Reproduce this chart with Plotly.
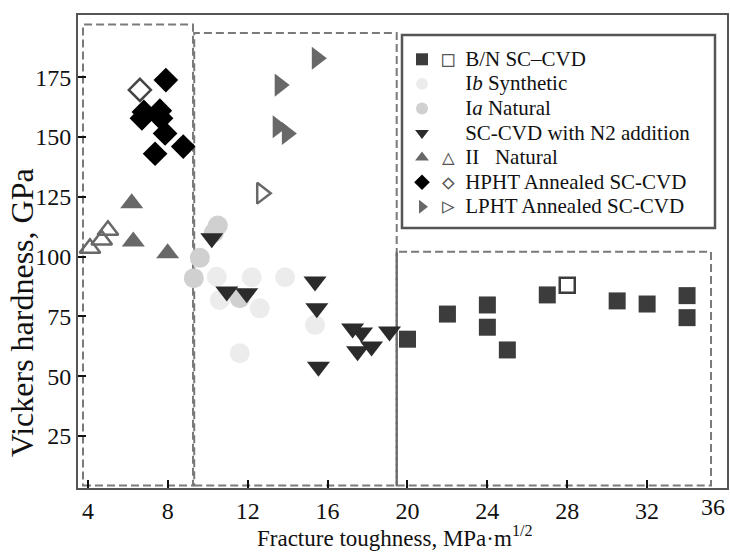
import plotly.graph_objects as go

# ---- data ----
bn_x = [20.0, 22.0, 24.0, 24.0, 25.0, 27.0, 30.5, 32.0, 34.0, 34.0]
bn_y = [65.5, 76.0, 79.8, 70.5, 61.0, 84.0, 81.5, 80.2, 83.7, 74.5]
bn_open_x = [28.0]
bn_open_y = [88.0]

ib_x = [10.45, 12.2, 13.87, 10.6, 12.6, 11.6, 15.37]
ib_y = [91.6, 91.4, 91.4, 81.9, 78.4, 59.6, 71.5]

ia_x = [10.5, 10.3, 9.6, 9.3, 11.6]
ia_y = [113.0, 110.0, 99.5, 91.0, 82.6]

n2_x = [10.2, 10.95, 11.95, 15.37, 15.46, 15.54, 17.25, 17.7, 17.5, 18.2, 19.1]
n2_y = [107.7, 85.4, 84.7, 89.6, 78.4, 54.0, 70.0, 68.3, 60.5, 62.4, 68.7]

ii_x = [6.19, 6.27, 7.99]
ii_y = [122.3, 106.3, 101.4]
ii_open_x = [4.1, 4.69, 5.0]
ii_open_y = [103.5, 107.0, 111.0]

hp_x = [7.9, 6.8, 7.6, 6.7, 7.66, 7.86, 8.77, 7.36]
hp_y = [173.8, 160.5, 161.0, 157.8, 157.8, 151.5, 146.0, 143.0]
hp_open_x = [6.6]
hp_open_y = [169.7]

lp_x = [15.46, 13.6, 13.5, 13.96]
lp_y = [182.9, 171.7, 154.3, 151.5]
lp_open_x = [12.7]
lp_open_y = [126.5]

x_ticks = [4, 8, 12, 16, 20, 24, 28, 32]
x_last_tick = 36
y_ticks = [25, 50, 75, 100, 125, 150, 175]

FONT = "Liberation Serif"
SYMF = "DejaVu Sans Mono"
LEG_TXT = 21

# plot area in pixels: x 78..727, y 15..488
PL, PR, PT, PB = 78, 727, 15, 488
PW, PH = PR - PL, PB - PT


def px_x(p):
    return (p - PL) / PW


def px_y(p):
    return 1 - (p - PT) / PH


def lname(glyph, text, gcolor="#555555"):
    col = gcolor if glyph else "rgba(0,0,0,0)"
    g = glyph if glyph else "□"
    return (f'<span style="font-size:{LEG_TXT}px">'
            f'<span style="font-family:{SYMF};color:{col}">{g}</span>\u00a0 {text}</span>')


fig = go.Figure()

fig.add_trace(go.Scatter(x=bn_x, y=bn_y, mode="markers", name=lname("□", "B/N SC–CVD"),
                         marker=dict(symbol="square", size=17, color="#3c3c3c")))
fig.add_trace(go.Scatter(x=bn_open_x, y=bn_open_y, mode="markers", showlegend=False,
                         marker=dict(symbol="square-open", size=15, color="#3c3c3c",
                                     line=dict(width=2.5, color="#3c3c3c"))))
fig.add_trace(go.Scatter(x=ib_x, y=ib_y, mode="markers", name=lname(None, "I<i>b</i> Synthetic"),
                         marker=dict(symbol="circle", size=20, color="#ececec")))
fig.add_trace(go.Scatter(x=ia_x, y=ia_y, mode="markers", name=lname(None, "I<i>a</i> Natural"),
                         marker=dict(symbol="circle", size=20, color="#d0d0d0")))
fig.add_trace(go.Scatter(x=n2_x, y=n2_y, mode="markers", name=lname(None, "SC-CVD with N2 addition"),
                         marker=dict(symbol="triangle-down", size=20, color="#2b2b2b")))
fig.add_trace(go.Scatter(x=ii_x, y=ii_y, mode="markers", name=lname("△", "II\u00a0\u00a0 Natural"),
                         marker=dict(symbol="triangle-up", size=20, color="#686868")))
fig.add_trace(go.Scatter(x=ii_open_x, y=ii_open_y, mode="markers", showlegend=False,
                         marker=dict(symbol="triangle-up-open", size=18, color="#686868",
                                     line=dict(width=2.5, color="#686868"))))
fig.add_trace(go.Scatter(x=hp_x, y=hp_y, mode="markers", name=lname("◇", "HPHT Annealed SC-CVD"),
                         marker=dict(symbol="diamond", size=19, color="#000000")))
fig.add_trace(go.Scatter(x=hp_open_x, y=hp_open_y, mode="markers", showlegend=False,
                         marker=dict(symbol="diamond-open", size=17, color="#444444",
                                     line=dict(width=2.5, color="#444444"))))
fig.add_trace(go.Scatter(x=lp_x, y=lp_y, mode="markers", name=lname("▷", "LPHT Annealed SC-CVD"),
                         marker=dict(symbol="triangle-right", size=20, color="#686868")))
fig.add_trace(go.Scatter(x=lp_open_x, y=lp_open_y, mode="markers", showlegend=False,
                         marker=dict(symbol="triangle-right-open", size=18, color="#686868",
                                     line=dict(width=2.5, color="#686868"))))

dash_col = "#7a7a7a"
DASH = "8px,4px"
shapes = [
    dict(type="rect", xref="x", yref="y", x0=3.75, x1=9.26, y0=4.3, y1=197,
         line=dict(color=dash_col, width=2, dash=DASH), layer="below"),
    dict(type="rect", xref="x", yref="y", x0=9.32, x1=19.46, y0=4.3, y1=193.5,
         line=dict(color=dash_col, width=2, dash=DASH), layer="below"),
    dict(type="rect", xref="x", yref="y", x0=19.46, x1=35.2, y0=4.3, y1=102,
         line=dict(color=dash_col, width=2, dash=DASH), layer="below"),
    dict(type="line", xref="x", yref="y", x0=19.46, x1=19.46, y0=4.3, y1=102,
         line=dict(color="#6a6a6a", width=2), layer="below"),
    # legend frame
    dict(type="rect", xref="paper", yref="paper",
         x0=px_x(402), x1=px_x(715), y0=px_y(228), y1=px_y(35),
         line=dict(color="#555555", width=2.5), fillcolor="white", layer="above"),
]

fig.update_layout(
    width=730, height=557,
    margin=dict(l=PL, r=730 - PR, t=PT, b=557 - PB, autoexpand=False),
    paper_bgcolor="white", plot_bgcolor="white",
    font=dict(family=FONT, size=20, color="#111111"),
    showlegend=True,
    shapes=shapes,
    legend=dict(x=px_x(402), y=px_y(42), xanchor="left", yanchor="top",
                bgcolor="rgba(0,0,0,0)", borderwidth=0,
                font=dict(family=FONT, size=16.6, color="#111111"),
                itemsizing="constant", tracegroupgap=0),
    xaxis=dict(range=[3.5, 36], tickvals=x_ticks, ticktext=[str(v) for v in x_ticks],
               automargin=False,
               ticks="inside", ticklen=8, tickwidth=2, tickcolor="#111111",
               showgrid=False, zeroline=False, showline=True, mirror=True,
               linecolor="#555555", linewidth=2,
               tickfont=dict(family=FONT, size=24)),
    yaxis=dict(range=[3.3, 201], tickvals=y_ticks, automargin=False,
               ticks="inside", ticklen=8, tickwidth=2, tickcolor="#111111",
               showgrid=False, zeroline=False, showline=True, mirror=True,
               linecolor="#555555", linewidth=2,
               tickfont=dict(family=FONT, size=24)),
    annotations=[
        dict(x=x_last_tick, y=0, xref="x", yref="paper", text=str(x_last_tick),
             showarrow=False, xanchor="right", yanchor="top", yshift=-4,
             font=dict(family=FONT, size=24, color="#111111")),
        dict(x=0.488, y=-0.102, xref="paper", yref="paper",
             text="Fracture toughness, MPa·m<sup>1/2</sup>", showarrow=False,
             xanchor="center", yanchor="middle",
             font=dict(family=FONT, size=23, color="#111111")),
        dict(x=px_x(22), y=px_y(313), xref="paper", yref="paper",
             text="Vickers hardness, GPa", showarrow=False, textangle=-90,
             xanchor="center", yanchor="middle",
             font=dict(family=FONT, size=32, color="#111111")),
    ],
)

fig.write_html("out.html", config={"displayModeBar": False},
               post_script="document.body.style.margin='0';")
